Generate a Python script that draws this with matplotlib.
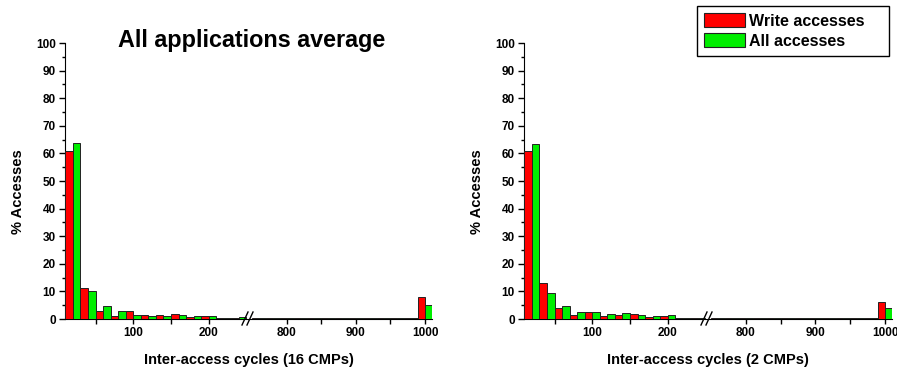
import matplotlib
matplotlib.use("Agg")
import matplotlib.pyplot as plt
from matplotlib.lines import Line2D
from matplotlib.patches import Patch

plt.rcParams['font.family'] = ['Liberation Sans', 'DejaVu Sans']
plt.rcParams['font.weight'] = 'bold'

# bin centres (cycles), low part and high part of the broken axis
bins_low = [20, 40, 60, 80, 100, 120, 140, 160, 180, 200, 220, 240]
bins_high = [760, 780, 800, 820, 840, 860, 880, 900, 920, 940, 960, 980, 1000]

# 16 CMPs
write16_low = [60.7, 11.4, 3.0, 1.0, 2.8, 1.4, 1.3, 1.7, 0.7, 1.1, 0.2, 0.2]
all16_low = [63.7, 10.2, 4.6, 2.8, 1.6, 1.0, 1.0, 1.3, 1.1, 1.1, 0.2, 0.6]
write16_high = [0.2, 0.4, 0.5, 0.2, 0.2, 0.2, 0.2, 0.2, 0.2, 0.2, 0.2, 0.2, 7.9]
all16_high = [0.2, 0.2, 0.2, 0.2, 0.2, 0.2, 0.2, 0.2, 0.2, 0.2, 0.2, 0.2, 5.1]

# 2 CMPs
write2_low = [60.7, 12.9, 3.9, 1.4, 2.4, 1.1, 1.4, 1.8, 0.7, 1.1, 0.2, 0.2]
all2_low = [63.5, 9.6, 4.7, 2.4, 2.4, 1.8, 2.0, 1.4, 1.1, 1.4, 0.2, 0.5]
write2_high = [0.2, 0.2, 0.2, 0.2, 0.2, 0.2, 0.2, 0.2, 0.2, 0.2, 0.2, 0.2, 6.2]
all2_high = [0.2, 0.2, 0.2, 0.2, 0.2, 0.2, 0.2, 0.2, 0.2, 0.2, 0.2, 0.2, 3.9]

RED = '#ff0000'
GREEN = '#00ee00'
EDGE = '#222222'
W, H = 897, 369

fig = plt.figure(figsize=(W / 100, H / 100), dpi=100)


def px(x0, x1, y0, y1):
    return [x0 / W, 1 - y1 / H, (x1 - x0) / W, (y1 - y0) / H]


def panel(xs, write_low, all_low, write_high, all_high, xlabel, title=None):
    x0, xb, x1 = xs
    ax1 = fig.add_axes(px(x0, xb, 43, 319))
    ax2 = fig.add_axes(px(xb, x1, 43, 319))
    for ax, bins, wv, av in [(ax1, bins_low, write_low, all_low),
                             (ax2, bins_high, write_high, all_high)]:
        ax.bar([b - 5 for b in bins], wv, width=10, color=RED, edgecolor=EDGE, lw=0.7, zorder=3)
        ax.bar([b + 5 for b in bins], av, width=10, color=GREEN, edgecolor=EDGE, lw=0.7, zorder=3)
        ax.set_ylim(0, 100)
        ax.spines['top'].set_visible(False)
        ax.spines['right'].set_visible(False)
        ax.tick_params(axis='x', which='major', direction='out', length=3.5, width=1,
                       labelsize=8.5, pad=2)
        ax.tick_params(axis='x', which='minor', direction='out', length=3.5, width=1)
    ax1.set_xlim(9.5, 252)
    ax1.set_xticks([100, 200])
    ax1.set_xticks([50, 150], minor=True)
    ax2.set_xlim(744, 1010)
    ax2.set_xticks([800, 900, 1000])
    ax2.set_xticks([850, 950], minor=True)
    ax2.spines['left'].set_visible(False)
    ax2.set_yticks([])
    ax1.set_yticks(range(0, 101, 10))
    ax1.set_yticks(range(5, 100, 10), minor=True)
    ax1.tick_params(axis='y', which='major', direction='out', length=4.5, width=1,
                    labelsize=8.5, pad=2)
    ax1.tick_params(axis='y', which='minor', direction='out', length=2.5, width=1)
    ax1.set_ylabel('% Accesses', fontsize=10.5, fontweight='bold')
    ax1.yaxis.set_label_coords(-0.218, 0.462)
    fig.text((x0 + x1) / 2 / W, 1 - 360 / H, xlabel, ha='center', va='center',
             fontsize=10.5, fontweight='bold')
    # break marks
    for dx in (-3, 2):
        fig.add_artist(Line2D([(xb + dx - 3) / W, (xb + dx + 3) / W],
                              [1 - 325 / H, 1 - 312 / H], color='black', lw=1, zorder=5))
    if title:
        fig.text(252 / W, 1 - 47 / H, title, ha='center', va='baseline',
                 fontsize=16.8, fontweight='bold')


panel((65, 248, 432), write16_low, all16_low, write16_high, all16_high,
      'Inter-access cycles (16 CMPs)', 'All applications average')
panel((524, 707, 892), write2_low, all2_low, write2_high, all2_high,
      'Inter-access cycles (2 CMPs)')

handles = [Patch(facecolor=RED, edgecolor=EDGE, lw=0.8),
           Patch(facecolor=GREEN, edgecolor=EDGE, lw=0.8)]
leg = fig.legend(handles, ['Write accesses', 'All accesses'], loc='upper left',
                 bbox_to_anchor=(697 / W, 1 - 58 / H, 192 / W, 52 / H), mode='expand',
                 fontsize=11.5, fancybox=False,
                 framealpha=1, edgecolor='black', handlelength=2.55, handleheight=0.95,
                 borderpad=0.45, labelspacing=0.3, handletextpad=0.25, borderaxespad=0)
leg.get_frame().set_linewidth(1.0)

fig.savefig('out.png', dpi=100)
